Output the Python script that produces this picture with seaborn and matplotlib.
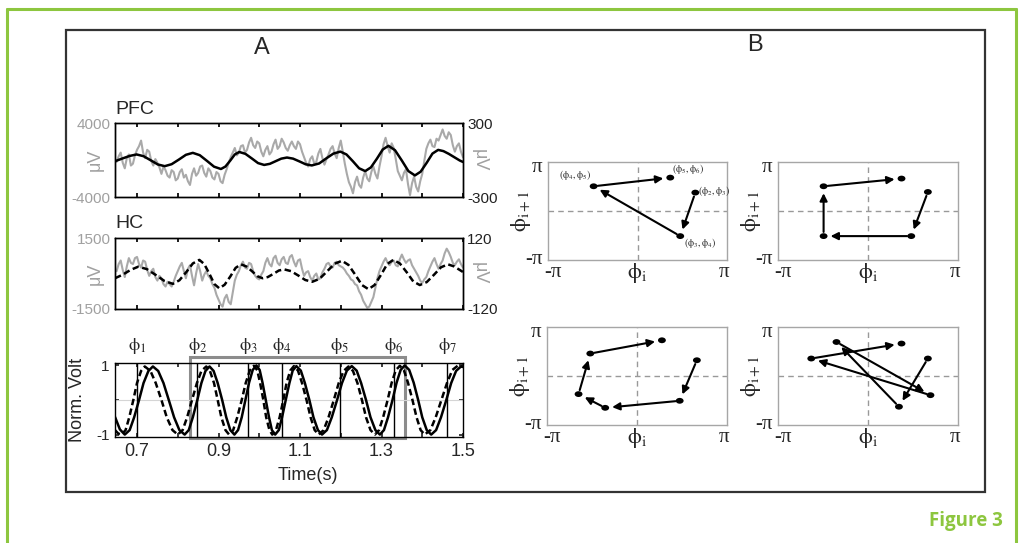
import numpy as np
import seaborn as sns
import matplotlib.pyplot as plt
from matplotlib.lines import Line2D
from matplotlib.patches import Rectangle
from matplotlib.path import Path
from matplotlib.transforms import Affine2D, ScaledTranslation

sns.set_theme(style="white")
plt.rcParams['font.family'] = ['Liberation Sans', 'DejaVu Sans']
plt.rcParams['mathtext.fontset'] = 'stix'

# ---- panel A: raw traces (uV), sampled every 5 ms from 0.65 s ----
t_raw = np.round(np.arange(0.65, 1.5025, 0.005), 3)
pfc_raw = [-200, 400, 800, -300, -900, 200, 600, -600, -400, 500,
           1100, 1500, 2100, 800, 200, 1100, 900, -100, -600, 100,
           -300, -800, -1500, -700, -1100, -1700, -1900, -1100, -1300, -2200,
           -2000, -1300, -1000, -1900, -1600, -2300, -2700, -1500, -900, -1700,
           -1400, -700, -600, -1400, -1800, -900, -1200, -1900, -2100, -1300,
           -1500, -2300, -2500, -1600, -1000, -300, 300, 800, 1300, 500,
           800, 1500, 1600, 800, 1100, 1900, 2400, 1600, 1300, 2000,
           1800, 900, 400, 1100, 1500, 600, 900, 1700, 2200, 1200,
           1500, 2300, 1900, 1300, 1000, 1600, 2000, 1500, 1200, 2000,
           1700, 900, 300, -300, -700, 100, 400, -400, -200, 700,
           1200, 200, -500, 100, 600, 1200, 1500, 700, 200, 1300,
           2100, 900, -400, -1500, -2400, -2900, -3600, -2400, -1800, -2700,
           -3000, -1900, -1200, -2000, -2300, -1300, -700, -1500, -2000, -700,
           400, 1700, 2400, 1500, 800, 1800, 1300, 100, -1200, -1700,
           -2200, -1400, -1000, -2600, -3800, -2500, -1800, -2900, -3400, -2300,
           -1500, -100, 1200, 1800, 2200, 1500, 1400, 2300, 2100, 2700,
           3300, 2600, 2300, 3000, 2700, 1600, 900, 1500, 1800, 900,
           300]
hc_raw = [100, 400, 550, 150, -150, 300, 650, 450, 400, 650,
          700, 400, 250, 550, 500, 150, -100, 100, 200, -150,
          -300, -100, -200, -450, -550, -350, -450, -550, -350, -100,
          100, 300, 450, 100, -200, 200, 350, -100, -500, 0,
          400, 100, -300, -50, 100, -100, -200, -450, -600, -900,
          -1100, -1300, -1400, -1050, -900, -1200, -1300, -800, -300, -50,
          100, 350, 500, 250, 200, 450, 400, 100, -100, -200,
          -250, -50, 100, 450, 650, 400, 300, 650, 750, 450,
          350, 600, 700, 450, 400, 700, 780, 500, 300, 550,
          600, 200, -100, 50, 100, -150, -300, -100, 0, -250,
          -200, 50, 200, 400, 450, 300, 250, 450, 500, 350,
          300, 250, 150, 0, -100, -250, -300, -450, -500, -750,
          -900, -1150, -1300, -1450, -1400, -1200, -1000, -600, -200, 100,
          300, 500, 650, 450, 350, 500, 550, 350, 300, 600,
          800, 600, 450, 550, 600, 350, 200, 50, -100, -300,
          -400, -250, -150, 100, 300, 500, 650, 400, 200, 400,
          550, 850, 1050, 900, 700, 450, 350, 500, 600, 400,
          250]

# ---- panel A: theta-filtered traces (uV) ----
pfc_theta_t = [0.646, 0.664, 0.682, 0.699, 0.716, 0.734, 0.751, 0.768, 0.785, 0.803,
               0.820, 0.837, 0.854, 0.872, 0.889, 0.906, 0.917, 0.929, 0.940, 0.951,
               0.966, 0.982, 0.997, 1.012, 1.026, 1.040, 1.054, 1.068, 1.083, 1.099,
               1.114, 1.129, 1.147, 1.164, 1.182, 1.199, 1.214, 1.230, 1.245, 1.260,
               1.274, 1.289, 1.303, 1.317, 1.333, 1.350, 1.366, 1.382, 1.396, 1.411,
               1.425, 1.439, 1.452, 1.465, 1.478, 1.492, 1.500]
pfc_theta_v = [-10, 12, 33, 45, 31, -3, -36, -50, -34, 4,
               42, 58, 39, -8, -54, -73, -53, -4, 45, 65,
               50, 12, -25, -40, -31, -10, 11, 20, 11, -12,
               -35, -44, -28, 12, 52, 68, 45, -11, -67, -90,
               -60, 12, 85, 115, 80, -5, -90, -125, -95, -22,
               52, 82, 72, 50, 24, -4, -16]
hc_theta_t = [0.646, 0.665, 0.684, 0.703, 0.724, 0.746, 0.767, 0.788, 0.804, 0.821,
              0.837, 0.853, 0.865, 0.878, 0.890, 0.902, 0.915, 0.929, 0.942, 0.955,
              0.968, 0.982, 0.995, 1.008, 1.021, 1.035, 1.048, 1.061, 1.078, 1.096,
              1.113, 1.130, 1.148, 1.167, 1.185, 1.203, 1.219, 1.236, 1.252, 1.268,
              1.283, 1.299, 1.314, 1.329, 1.345, 1.362, 1.378, 1.394, 1.411, 1.429,
              1.446, 1.463, 1.478, 1.492, 1.500]
hc_theta_v = [-16, -4, 12, 23, 15, -5, -25, -35, -23, 5,
              34, 46, 32, -2, -36, -50, -38, -10, 19, 31,
              24, 8, -9, -16, -12, -1, 10, 14, 8, -7,
              -22, -28, -18, 8, 33, 43, 29, -5, -39, -53,
              -39, -4, 32, 46, 34, 4, -27, -39, -29, -4,
              21, 31, 24, 12, 5]

# ---- panel A: normalized theta (solid = PFC, dashed = HC) ----
norm_pfc_t = [0.646, 0.658, 0.670,
              0.682, 0.693, 0.705, 0.716, 0.728, 0.739,
              0.752, 0.765, 0.778, 0.791, 0.804, 0.817,
              0.827, 0.837, 0.848, 0.858, 0.868, 0.878,
              0.888, 0.898, 0.909, 0.919, 0.929, 0.939,
              0.948, 0.957, 0.966, 0.975, 0.984, 0.993,
              1.001, 1.008, 1.016, 1.024, 1.031, 1.039,
              1.048, 1.056, 1.065, 1.074, 1.082, 1.091,
              1.102, 1.112, 1.123, 1.133, 1.144, 1.154,
              1.166, 1.178, 1.191, 1.203, 1.215, 1.227,
              1.239, 1.250, 1.262, 1.273, 1.285, 1.296,
              1.306, 1.316, 1.327, 1.337, 1.347, 1.357,
              1.368, 1.379, 1.390, 1.400, 1.411, 1.422,
              1.434, 1.446, 1.459, 1.471, 1.483, 1.495, 1.500]
norm_pfc_v = [-0.49, -0.85, -1,
              -0.87, -0.5, 0, 0.49, 0.84, 0.97,
              0.84, 0.49, 0, -0.5, -0.87, -1,
              -0.87, -0.5, 0, 0.49, 0.84, 0.97,
              0.84, 0.49, 0, -0.5, -0.87, -1,
              -0.87, -0.5, 0, 0.5, 0.87, 1,
              0.87, 0.5, 0, -0.5, -0.87, -1,
              -0.87, -0.5, 0, 0.49, 0.85, 0.98,
              0.85, 0.49, 0, -0.5, -0.87, -1,
              -0.87, -0.5, 0, 0.49, 0.85, 0.98,
              0.85, 0.49, 0, -0.5, -0.87, -1,
              -0.87, -0.5, 0, 0.5, 0.87, 1,
              0.87, 0.5, 0, -0.5, -0.87, -1,
              -0.87, -0.5, 0, 0.49, 0.84, 0.97, 0.96]
norm_hc_t = [0.646, 0.654, 0.662,
             0.672, 0.681, 0.691, 0.700, 0.710, 0.719,
             0.733, 0.746, 0.760, 0.773, 0.787, 0.800,
             0.812, 0.823, 0.835, 0.847, 0.858, 0.870,
             0.879, 0.889, 0.898, 0.907, 0.917, 0.926,
             0.936, 0.946, 0.957, 0.967, 0.977, 0.987,
             0.995, 1.002, 1.010, 1.017, 1.025, 1.032,
             1.041, 1.050, 1.059, 1.067, 1.076, 1.085,
             1.095, 1.105, 1.116, 1.126, 1.136, 1.146,
             1.158, 1.170, 1.183, 1.195, 1.207, 1.219,
             1.230, 1.241, 1.252, 1.262, 1.273, 1.284,
             1.294, 1.304, 1.315, 1.325, 1.335, 1.345,
             1.355, 1.365, 1.376, 1.386, 1.396, 1.406,
             1.420, 1.433, 1.447, 1.461, 1.474, 1.488, 1.500]
norm_hc_v = [-0.87, -0.97, -1,
             -0.87, -0.5, 0, 0.49, 0.84, 0.97,
             0.84, 0.49, 0, -0.5, -0.87, -1,
             -0.87, -0.5, 0, 0.49, 0.84, 0.97,
             0.84, 0.49, 0, -0.5, -0.87, -1,
             -0.87, -0.5, 0, 0.5, 0.86, 0.99,
             0.86, 0.5, 0, -0.5, -0.87, -1,
             -0.87, -0.5, 0, 0.49, 0.85, 0.98,
             0.85, 0.49, 0, -0.5, -0.87, -1,
             -0.87, -0.5, 0, 0.49, 0.84, 0.97,
             0.84, 0.49, 0, -0.5, -0.87, -1,
             -0.87, -0.5, 0, 0.5, 0.86, 0.99,
             0.86, 0.5, 0, -0.5, -0.87, -1,
             -0.87, -0.5, 0, 0.5, 0.87, 1, 0.95]

phase_times = [0.700, 0.848, 0.973, 1.056, 1.197, 1.331, 1.461]
phase_labels = [r'$\mathrm{\phi}_%d$' % (i + 1) for i in range(7)]
window = (0.831, 1.358)
time_ticks = [0.7, 0.8, 0.9, 1.0, 1.1, 1.2, 1.3, 1.4, 1.5]
time_labels = ['0.7', '', '0.9', '', '1.1', '', '1.3', '', '1.5']

# ---- panel B: phase pairs (phi_i, phi_i+1) ----
tl_x = [2.03, 1.50, -1.54, 1.15]
tl_y = [1.18, -1.61, 1.585, 2.14]
tl_labels = [r'$(\mathrm{\phi}_2,\mathrm{\phi}_3)$', r'$(\mathrm{\phi}_3,\mathrm{\phi}_4)$',
             r'$(\mathrm{\phi}_4,\mathrm{\phi}_5)$', r'$(\mathrm{\phi}_5,\mathrm{\phi}_6)$']
tr_x = [2.09, 1.51, -1.55, -1.55, 1.17]
tr_y = [1.22, -1.61, -1.61, 1.585, 2.08]
bl_x = [2.09, 1.49, -1.11, -2.04, -1.63, 0.87]
bl_y = [1.01, -1.59, -2.04, -1.16, 1.44, 2.29]
br_x = [2.09, 1.08, -1.10, 2.18, -1.98, 1.17]
br_y = [1.12, -1.97, 2.18, -1.23, 1.12, 2.08]

W, H = 1022, 543
fig = plt.figure(figsize=(W / 100, H / 100), dpi=100)


def box(l, t, r, b):
    return [l / W, 1 - b / H, (r - l) / W, (b - t) / H]


gray = '#a6a6a6'
green = '#8dc63f'
serif = ['Liberation Serif', 'DejaVu Serif']

# frame lines
fig.add_artist(Line2D([6.5 / W, 6.5 / W], [0, 1 - 8.5 / H], color=green, lw=2.2))
fig.add_artist(Line2D([1015.5 / W, 1015.5 / W], [0, 1 - 8.5 / H], color=green, lw=2.2))
fig.add_artist(Line2D([6.5 / W, 1015.5 / W], [1 - 8.5 / H, 1 - 8.5 / H], color=green, lw=2.2))
fig.add_artist(Rectangle((66 / W, 1 - 492 / H), 919 / W, 462 / H, fill=False,
                         ec='#333333', lw=1.6, transform=fig.transFigure))
fig.text(1003 / W, 1 - 521 / H, 'Figure 3', color=green, fontsize=13.5,
         fontweight='bold', ha='right', va='center', family=['Open Sans', 'DejaVu Sans'])
fig.text(262 / W, 1 - 48 / H, 'A', fontsize=17, ha='center', va='center')
fig.text(755 / W, 1 - 45 / H, 'B', fontsize=17, ha='center', va='center')


def trace_axes(rect, raw, theta_t, theta_v, lim_l, lim_r, dashed, title, title_y):
    ax = fig.add_axes(rect)
    sns.lineplot(x=t_raw, y=raw, ax=ax, color='#a9a9a9', lw=1.5)
    ax.set_xlim(0.646, 1.5)
    ax.set_ylim(-lim_l, lim_l)
    ax.set_yticks([-lim_l, lim_l])
    ax.set_yticklabels(['-%d' % lim_l, '%d' % lim_l], color='#a0a0a0', fontsize=11)
    ax.set_xticks(time_ticks)
    ax.tick_params(axis='x', direction='in', bottom=True, top=True, length=3,
                   labelbottom=False, color='black')
    ax.tick_params(axis='y', length=0, pad=3)
    ax.set_xlabel('')
    ax.text(-0.056, 0.5, 'μV', transform=ax.transAxes, rotation=90, fontsize=13,
            color='#a0a0a0', ha='center', va='center')
    ax2 = ax.twinx()
    ls = (0, (2.6, 1.4)) if dashed else '-'
    sns.lineplot(x=theta_t, y=theta_v, ax=ax2, color='black', lw=1.8, linestyle=ls)
    ax2.set_ylim(-lim_r, lim_r)
    ax2.set_yticks([-lim_r, lim_r])
    ax2.set_yticklabels(['-%d' % lim_r, '%d' % lim_r], fontsize=11, color='#222222')
    ax2.tick_params(axis='y', length=0, pad=3)
    ax2.text(1.046, 0.5, 'μV', transform=ax.transAxes, rotation=270, fontsize=13,
             color='#a0a0a0', ha='center', va='center')
    for a in (ax, ax2):
        for s in a.spines.values():
            s.set_color('black')
            s.set_linewidth(1)
    fig.text(115 / W, 1 - title_y / H, title, fontsize=14, ha='left', va='center')
    return ax


trace_axes(box(115, 123, 463, 197), pfc_raw, pfc_theta_t, pfc_theta_v, 4000, 300, False, 'PFC', 110)
trace_axes(box(115, 238, 463, 309), hc_raw, hc_theta_t, hc_theta_v, 1500, 120, True, 'HC', 223)

# normalized panel
ax = fig.add_axes(box(115, 363, 463, 437))
ax.axhline(0, color='#d5d5d5', lw=0.8)
for t, lab in zip(phase_times, phase_labels):
    ax.axvline(t, color='black', lw=1)
    ax.text(t, 1.55, lab, ha='center', va='center', fontsize=13)
sns.lineplot(x=norm_pfc_t, y=norm_pfc_v, ax=ax, color='black', lw=1.8)
sns.lineplot(x=norm_hc_t, y=norm_hc_v, ax=ax, color='black', lw=1.8, linestyle=(0, (2.6, 1.4)))
ax.add_patch(Rectangle((window[0], -1.10), window[1] - window[0], 2.33, fill=False,
                       ec='#8c8c8c', lw=2.2, clip_on=False))
ax.set_xlim(0.646, 1.5)
ax.set_ylim(-1.07, 1.07)
ax.set_xticks(time_ticks)
ax.set_xticklabels(time_labels, fontsize=13)
ax.set_yticks([-1, 0, 1])
ax.set_yticklabels(['-1', '', '1'], fontsize=11)
ax.tick_params(direction='in', bottom=True, top=True, left=True, right=True, length=3, pad=4)
ax.set_xlabel('')
ax.text(0.555, -0.52, 'Time(s)', transform=ax.transAxes, fontsize=13, ha='center', va='center')
ax.text(-0.109, 0.5, 'Norm. Volt', transform=ax.transAxes, rotation=90, fontsize=13,
        ha='center', va='center')
for s in ax.spines.values():
    s.set_color('black')
    s.set_linewidth(1)

# panel B
dot = Path.unit_circle().transformed(Affine2D().scale(1.35, 1.0))


def nudge(label, dx, dy):
    label.set_transform(label.get_transform() + ScaledTranslation(dx / 100, dy / 100, fig.dpi_scale_trans))


def phase_axes(rect, xs, ys, labels=None):
    ax = fig.add_axes(rect)
    ax.axhline(0, color='#999999', lw=1, ls=(0, (4, 3)))
    ax.axvline(0, color='#999999', lw=1, ls=(0, (4, 3)))
    for i in range(len(xs) - 1):
        ax.annotate('', xy=(xs[i + 1], ys[i + 1]), xytext=(xs[i], ys[i]),
                    arrowprops=dict(arrowstyle='-|>', color='black', lw=1.5,
                                    shrinkA=3, shrinkB=5, mutation_scale=11))
    sns.scatterplot(x=xs, y=ys, ax=ax, color='black', s=32, marker=dot,
                    edgecolor='none', zorder=5)
    ax.set_xlim(-np.pi, np.pi)
    ax.set_ylim(-np.pi, np.pi)
    ax.set_xticks([-np.pi, np.pi])
    ax.set_yticks([-np.pi, np.pi])
    ax.set_xticklabels(['-π', 'π'], fontsize=15, family=serif)
    ax.set_yticklabels(['-π', 'π'], fontsize=15, family=serif)
    ax.tick_params(axis='x', length=0, pad=2)
    ax.tick_params(axis='y', length=0, pad=4)
    xl = ax.get_xticklabels()
    nudge(xl[0], 5, 0)
    nudge(xl[1], -3, 0)
    yl = ax.get_yticklabels()
    nudge(yl[0], 0, 3)
    nudge(yl[1], 0, -3)
    ax.set_xlabel('')
    ax.set_ylabel('')
    ax.text(0.5, -0.13, r'$\mathrm{\phi}_\mathrm{i}$', transform=ax.transAxes, fontsize=16,
            ha='center', va='center')
    ax.text(-0.15, 0.5, r'$\mathrm{\phi}_\mathrm{i+1}$', transform=ax.transAxes, fontsize=16,
            rotation=90, ha='center', va='center')
    for s in ax.spines.values():
        s.set_color(gray)
        s.set_linewidth(1)
    if labels:
        offsets = [((2, 1), 'left'), ((3, -5), 'left'), ((-13, 8), 'center'), ((1, 6), 'left')]
        for x, y, lab, (off, ha) in zip(xs, ys, labels, offsets):
            ax.annotate(lab, (x, y), xytext=off, textcoords='offset points',
                        fontsize=7, ha=ha, va='center')
    return ax


phase_axes(box(548, 162, 727, 260), tl_x, tl_y, tl_labels)
phase_axes(box(778, 162, 958, 260), tr_x, tr_y)
phase_axes(box(547, 327, 727, 425), bl_x, bl_y)
phase_axes(box(778, 327, 958, 425), br_x, br_y)

fig.savefig('out.png', dpi=100)
